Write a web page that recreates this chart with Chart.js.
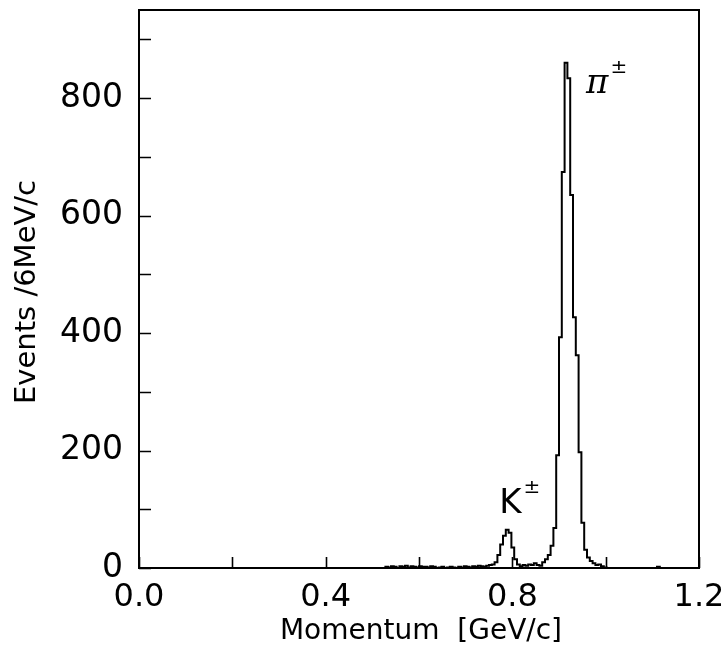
<!DOCTYPE html>
<html>
<head>
<meta charset="utf-8">
<script src="https://cdn.jsdelivr.net/npm/chart.js@4"></script>
<style>
  html, body { margin: 0; padding: 0; background: #fff; }
  canvas { display: block; }
</style>
</head>
<body>
<canvas id="c" width="721" height="667"></canvas>
<script>
// ---- data ----
const firstBinStart = 0.528;   // GeV/c, left edge of first listed bin
const binWidth = 0.006;        // 6 MeV/c bins
const counts = [
  0, 2, 1, 3, 2, 0, 3, 2, 4, 1,
  3, 2, 1, 3, 2, 2, 1, 3, 2, 0,
  1, 2, 0, 1, 2, 1, 0, 2, 1, 3,
  2, 1, 3, 2, 4, 3, 2, 4, 5, 6,
  10, 22, 40, 55, 65, 60, 35, 15, 6, 3,
  5, 4, 6, 5, 8, 5, 4, 10, 15, 22,
  38, 68, 192, 393, 674, 860, 834, 635, 427, 362,
  197, 77, 31, 18, 12, 8, 5, 6, 3, 1,
  0, 0, 0, 0, 0, 0, 0, 0, 0, 0,
  0, 0, 0, 0, 0, 0, 0, 0, 2, 0,
  0, 0, 0, 0, 0, 0, 0, 0, 0, 0,
  0, 0
];
const xTickLabels = [0.0, 0.4, 0.8, 1.2];
const xTickMarks = [0.0, 0.2, 0.4, 0.6, 0.8, 1.0, 1.2];
const yTickLabels = [0, 200, 400, 600, 800];
const yTickMarks = [0, 100, 200, 300, 400, 500, 600, 700, 800, 900];
const peakLabels = [
  { text: "K", sup: "±", x: 0.772, y: 94, italic: false },
  { text: "π", sup: "±", x: 0.958, y: 808, italic: true }
];
const xTitle = "Momentum  [GeV/c]";
const yTitle = "Events /6MeV/c";

// build histogram step points from the arrays
const points = [{ x: 0, y: 0 }];
counts.forEach((c, i) => points.push({ x: firstBinStart + i * binWidth, y: c }));
points.push({ x: 1.2, y: 0 });

const FONT = "'DejaVu Sans', 'Liberation Sans', sans-serif";

function noPad(s) { s.paddingTop = 0; s.paddingBottom = 0; s.paddingLeft = 0; s.paddingRight = 0; }

const framePlugin = {
  id: 'frame',
  afterDatasetsDraw(chart) {
    const { ctx, chartArea: a, scales } = chart;
    ctx.save();
    ctx.strokeStyle = '#000';
    ctx.lineWidth = 2;
    ctx.strokeRect(a.left, a.top, a.right - a.left, a.bottom - a.top);
    ctx.lineWidth = 1.6;
    ctx.beginPath();
    xTickMarks.forEach(v => {
      const px = Math.round(scales.x.getPixelForValue(v)) + 0.5;
      ctx.moveTo(px, a.bottom);
      ctx.lineTo(px, a.bottom - 11);
    });
    yTickMarks.forEach(v => {
      const py = Math.round(scales.y.getPixelForValue(v)) + 0.5;
      ctx.moveTo(a.left, py);
      ctx.lineTo(a.left + 12, py);
    });
    ctx.stroke();

    // peak labels
    ctx.fillStyle = '#000';
    ctx.textBaseline = 'alphabetic';
    ctx.textAlign = 'left';
    peakLabels.forEach(l => {
      const px = scales.x.getPixelForValue(l.x);
      const py = scales.y.getPixelForValue(l.y);
      ctx.font = (l.italic ? 'italic ' : '') + '34px ' + (l.italic ? "'DejaVu Serif', serif" : FONT);
      ctx.fillText(l.text, px, py);
      const w = ctx.measureText(l.text).width;
      ctx.font = '20px ' + FONT;
      ctx.fillText(l.sup, px + w + 2, py - 20);
    });

    // axis titles
    ctx.font = '28px ' + FONT;
    ctx.textAlign = 'center';
    ctx.textBaseline = 'middle';
    ctx.fillText(xTitle, 421, 632);
    ctx.save();
    ctx.translate(27, 292);
    ctx.rotate(-Math.PI / 2);
    ctx.font = '29px ' + FONT;
    ctx.fillText(yTitle, 0, 0);
    ctx.restore();
    ctx.restore();
  }
};

new Chart(document.getElementById('c'), {
  type: 'line',
  data: {
    datasets: [{
      data: points,
      stepped: 'after',
      borderColor: '#000',
      borderWidth: 2,
      pointRadius: 0,
      fill: false
    }]
  },
  options: {
    responsive: false,
    animation: false,
    devicePixelRatio: 1,
    layout: { padding: { top: 10, right: 22, left: 0, bottom: 0 } },
    plugins: { legend: { display: false }, tooltip: { enabled: false } },
    scales: {
      x: {
        type: 'linear',
        min: 0, max: 1.2,
        afterBuildTicks: s => { s.ticks = xTickLabels.map(v => ({ value: v })); },
        afterFit: s => { s.height = 99; noPad(s); },
        grid: { display: false },
        border: { display: false },
        ticks: {
          color: '#000',
          font: { family: FONT, size: 32 },
          padding: 2,
          maxRotation: 0,
          autoSkip: false,
          callback: v => Number(v).toFixed(1)
        }
      },
      y: {
        type: 'linear',
        min: 0, max: 950,
        afterBuildTicks: s => { s.ticks = yTickLabels.map(v => ({ value: v })); },
        afterFit: s => { s.width = 139; noPad(s); },
        grid: { display: false },
        border: { display: false },
        ticks: {
          color: '#000',
          font: { family: FONT, size: 33 },
          padding: 8,
          autoSkip: false,
          callback: v => String(v)
        }
      }
    }
  },
  plugins: [framePlugin]
});
</script>
</body>
</html>
